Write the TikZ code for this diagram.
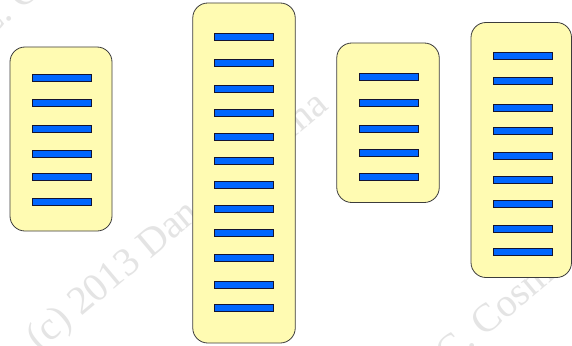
\documentclass[tikz,border=0pt]{standalone}
\usepackage{fontspec}
\setmainfont{Liberation Serif}
\definecolor{boxfill}{RGB}{255,251,178}
\definecolor{boxline}{RGB}{60,60,60}
\definecolor{barfill}{RGB}{0,102,255}
\definecolor{barline}{RGB}{20,20,50}
\definecolor{wmark}{RGB}{228,228,228}
\begin{document}
\begin{tikzpicture}[x=1pt,y=-1pt,
  panel/.style={draw=boxline,fill=boxfill,line width=0.8pt,rounded corners=15pt,
    rectangle,inner sep=0pt,outer sep=0pt},
  slot/.style={draw=barline,fill=barfill,line width=0.8pt,rectangle,
    minimum width=59pt,minimum height=7pt,inner sep=0pt,outer sep=0pt},
  wm/.style={text=wmark,font=\fontsize{40}{40}\selectfont,rotate=40,anchor=base west,inner sep=0pt}]
\useasboundingbox[fill=white] (0,0) rectangle (572,345);
% watermark
\node[wm] (w0) at (-14,41) {C. Cosma};
\node[wm] (w1) at (39.5,352) {(c) 2013 Dan C. Cosma};
\node[wm] (w2) at (449,368) {C. Cosma};
% panels
\node[panel,minimum width=102pt,minimum height=184pt] (p1) at (61,139) {};
\node[panel,minimum width=102.5pt,minimum height=340pt] (p2) at (244,173) {};
\node[panel,minimum width=102.5pt,minimum height=159.5pt] (p3) at (388,122.75) {};
\node[panel,minimum width=100.5pt,minimum height=255pt] (p4) at (521.25,150) {};
% slots
\foreach \y [count=\i] in {77.7,102.7,129.3,153.7,176.7,201.7}
  \node[slot] (a\i) at (62.2,\y) {};
\foreach \y [count=\i] in {37.3,62.7,88.7,113.3,137,161.3,185.3,209.3,233.3,257.7,284.7,308.3}
  \node[slot] (b\i) at (244,\y) {};
\foreach \y [count=\i] in {77.3,102.7,129,153.3,177}
  \node[slot] (c\i) at (389.2,\y) {};
\foreach \y [count=\i] in {56,81.3,107.7,131.3,155.7,179.7,203.7,228.7,252}
  \node[slot] (d\i) at (523.2,\y) {};
\end{tikzpicture}
\end{document}
